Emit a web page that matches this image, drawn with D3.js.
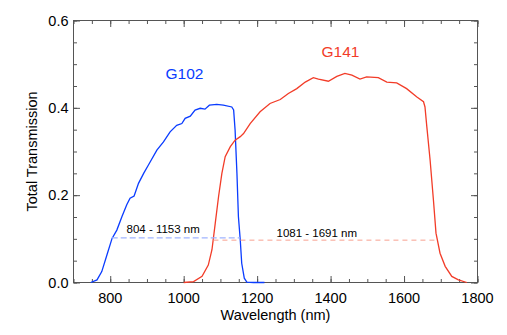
<!DOCTYPE html>
<html>
<head>
<meta charset="utf-8">
<script src="https://cdn.jsdelivr.net/npm/d3@7"></script>
<style>
  body { margin: 0; background: #fff; }
  svg { font-family: "Liberation Sans", Arial, sans-serif; }
</style>
</head>
<body>
<svg id="chart" width="507" height="335"></svg>
<script>
(function() {

  let w = 507;
  let h = 335;
  let margin = {left: 73.5, right: 29.5, top: 20.5, bottom: 52.5};

  // G102 throughput (nm, transmission)
  let g102_nm = [747, 764, 777, 791, 805, 818, 832, 845, 854, 865, 877, 891, 904, 927, 945, 963, 981, 995, 1004, 1018, 1031, 1045, 1058, 1070, 1090, 1108, 1131, 1136, 1140, 1145, 1149, 1154, 1158, 1165, 1172, 1190, 1220];
  let g102_t  = [0, 0.006, 0.025, 0.063, 0.101, 0.12, 0.151, 0.178, 0.193, 0.198, 0.227, 0.25, 0.269, 0.303, 0.322, 0.345, 0.36, 0.364, 0.376, 0.381, 0.395, 0.399, 0.397, 0.406, 0.408, 0.406, 0.402, 0.395, 0.349, 0.25, 0.151, 0.098, 0.044, 0.01, 0.001, 0.0, 0.0];

  // G141 throughput
  let g141_nm = [1000, 1027, 1050, 1067, 1077, 1086, 1095, 1104, 1113, 1127, 1140, 1154, 1163, 1181, 1208, 1235, 1263, 1285, 1308, 1331, 1353, 1367, 1394, 1417, 1439, 1458, 1480, 1498, 1530, 1553, 1580, 1607, 1635, 1653, 1657, 1662, 1671, 1680, 1687, 1698, 1712, 1730, 1748, 1771];
  let g141_t  = [0, 0.002, 0.014, 0.04, 0.075, 0.136, 0.197, 0.25, 0.288, 0.311, 0.326, 0.334, 0.341, 0.364, 0.391, 0.41, 0.419, 0.433, 0.444, 0.459, 0.469, 0.466, 0.461, 0.472, 0.479, 0.475, 0.466, 0.471, 0.469, 0.459, 0.457, 0.444, 0.425, 0.414, 0.402, 0.357, 0.28, 0.189, 0.113, 0.067, 0.037, 0.014, 0.006, 0];

  // bandpass ranges [from, to, level]
  let g102_band = [804, 1153, 0.102];
  let g141_band = [1081, 1691, 0.097];

  let xTicks = [800, 1000, 1200, 1400, 1600, 1800];
  let yTicks = [0.0, 0.2, 0.4, 0.6];

  let blue = "#0a3cff";
  let red = "#f23c28";

  let svg = d3.select("#chart");

  let xScale = d3.scaleLinear()
                 .domain([700, 1800])
                 .range([margin.left, w - margin.right]);
  let yScale = d3.scaleLinear()
                 .domain([0, 0.6])
                 .range([h - margin.bottom, margin.top]);

  // IDL-style inward ticks on all four sides
  function tickAxis(axisFn, scale, values, size) {
    return axisFn(scale).tickValues(values).tickSize(size).tickFormat("");
  }
  let x0 = margin.left, x1 = w - margin.right;
  let y0 = h - margin.bottom, y1 = margin.top;
  let minorX = d3.range(700, 1801, 50);
  let minorY = d3.range(0, 0.601, 0.05);

  function styleAxis(g) {
    g.select(".domain").remove();
    g.selectAll("line").attr("stroke", "#555");
  }

  svg.append("g").attr("transform", "translate(0," + y0 + ")")
     .call(tickAxis(d3.axisTop, xScale, minorX, 3.5)).call(styleAxis);
  svg.append("g").attr("transform", "translate(0," + y0 + ")")
     .call(tickAxis(d3.axisTop, xScale, xTicks, 6.5)).call(styleAxis);
  svg.append("g").attr("transform", "translate(0," + y1 + ")")
     .call(tickAxis(d3.axisBottom, xScale, minorX, 3.5)).call(styleAxis);
  svg.append("g").attr("transform", "translate(0," + y1 + ")")
     .call(tickAxis(d3.axisBottom, xScale, xTicks, 6.5)).call(styleAxis);
  svg.append("g").attr("transform", "translate(" + x0 + ",0)")
     .call(tickAxis(d3.axisRight, yScale, minorY, 3.5)).call(styleAxis);
  svg.append("g").attr("transform", "translate(" + x0 + ",0)")
     .call(tickAxis(d3.axisRight, yScale, yTicks, 6.5)).call(styleAxis);
  svg.append("g").attr("transform", "translate(" + x1 + ",0)")
     .call(tickAxis(d3.axisLeft, yScale, minorY, 3.5)).call(styleAxis);
  svg.append("g").attr("transform", "translate(" + x1 + ",0)")
     .call(tickAxis(d3.axisLeft, yScale, yTicks, 6.5)).call(styleAxis);

  svg.append("rect")
     .attr("x", x0).attr("y", y1)
     .attr("width", x1 - x0).attr("height", y0 - y1)
     .attr("fill", "none").attr("stroke", "#555").attr("stroke-width", 1);

  // tick labels
  svg.append("g").selectAll("text")
     .data(xTicks).enter().append("text")
     .attr("x", d => xScale(d))
     .attr("y", y0 + 20.5)
     .attr("text-anchor", "middle")
     .attr("font-size", "14.5px")
     .text(d => d);
  svg.append("g").selectAll("text")
     .data(yTicks).enter().append("text")
     .attr("x", x0 - 5)
     .attr("y", d => yScale(d) + 5)
     .attr("text-anchor", "end")
     .attr("font-size", "14.5px")
     .text(d => d3.format(".1f")(d));

  svg.append("text")
     .attr("x", (x0 + x1) / 2)
     .attr("y", 319.5)
     .attr("text-anchor", "middle")
     .attr("font-size", "14.5px")
     .text("Wavelength (nm)");
  svg.append("text")
     .attr("transform", "translate(37," + ((y0 + y1) / 2) + ") rotate(-90)")
     .attr("text-anchor", "middle")
     .attr("font-size", "14.5px")
     .text("Total Transmission");

  // curves
  let line = d3.line()
               .x(d => xScale(d[0]))
               .y(d => yScale(d[1]));

  svg.append("path")
     .datum(d3.zip(g102_nm, g102_t))
     .attr("fill", "none")
     .attr("stroke", blue)
     .attr("stroke-width", 1.3)
     .attr("d", line);
  svg.append("path")
     .datum(d3.zip(g141_nm, g141_t))
     .attr("fill", "none")
     .attr("stroke", red)
     .attr("stroke-width", 1.3)
     .attr("d", line);

  // bandpass dashes
  svg.append("line")
     .attr("x1", xScale(g102_band[0])).attr("x2", xScale(g102_band[1]))
     .attr("y1", yScale(g102_band[2])).attr("y2", yScale(g102_band[2]))
     .attr("stroke", "#a0b4ff").attr("stroke-width", 1.3)
     .style("stroke-dasharray", "6, 3");
  svg.append("line")
     .attr("x1", xScale(g141_band[0])).attr("x2", xScale(g141_band[1]))
     .attr("y1", yScale(g141_band[2])).attr("y2", yScale(g141_band[2]))
     .attr("stroke", "#f8a090").attr("stroke-width", 1)
     .style("stroke-dasharray", "5, 4");

  svg.append("text")
     .attr("x", 126.5).attr("y", 233)
     .attr("font-size", "11.5px")
     .text(g102_band[0] + " - " + g102_band[1] + " nm");
  svg.append("text")
     .attr("x", 276.5).attr("y", 237)
     .attr("font-size", "11.5px")
     .text(g141_band[0] + " - " + g141_band[1] + " nm");

  // grism names
  svg.append("text")
     .attr("x", 165.5).attr("y", 78.5)
     .attr("font-size", "15.5px")
     .attr("fill", blue)
     .text("G102");
  svg.append("text")
     .attr("x", 321.5).attr("y", 57)
     .attr("font-size", "15.5px")
     .attr("fill", red)
     .text("G141");

})();
</script>
</body>
</html>
